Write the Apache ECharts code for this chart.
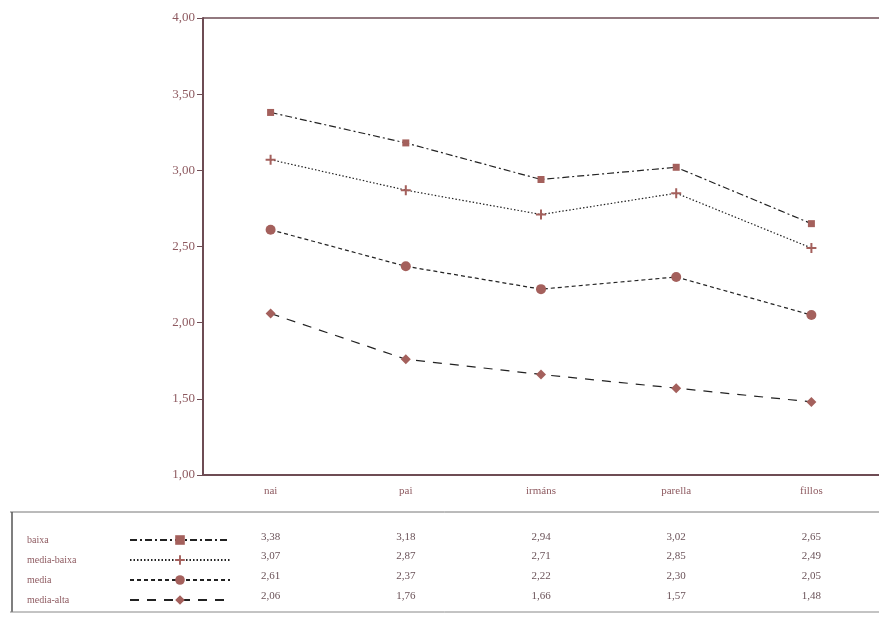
<!DOCTYPE html>
<html>
<head>
<meta charset="utf-8">
<script src="https://cdn.jsdelivr.net/npm/echarts@6/dist/echarts.min.js"></script>
<style>html,body{margin:0;padding:0;background:#fff}#c{width:879px;height:632px}</style>
</head>
<body>
<div id="c"></div>
<script>
var categories = ['nai', 'pai', 'irmáns', 'parella', 'fillos'];
var seriesNames = ['baixa', 'media-baixa', 'media', 'media-alta'];
var baixa = [3.38, 3.18, 2.94, 3.02, 2.65];
var mediaBaixa = [3.07, 2.87, 2.71, 2.85, 2.49];
var media = [2.61, 2.37, 2.22, 2.30, 2.05];
var mediaAlta = [2.06, 1.76, 1.66, 1.57, 1.48];
var yTicks = {min: 1, max: 4, interval: 0.5};

var seriesData = [baixa, mediaBaixa, media, mediaAlta];
var fmt = function (v) { return v.toFixed(2).replace('.', ','); };
var markerColor = '#a4605c';
var textColor = '#8e5a60';
var axisColor = '#6e4c54';
var serif = '"Liberation Serif", "DejaVu Serif", serif';

var styles = [
  {symbol: 'rect', size: 7, dash: [7, 3, 2, 3]},
  {symbol: 'path://M4,0H6V4H10V6H6V10H4V6H0V4H4Z', size: 10, dash: [1.5, 2]},
  {symbol: 'circle', size: 10, dash: [4, 3]},
  {symbol: 'diamond', size: 10, dash: [9, 8]}
];

var chart = echarts.init(document.getElementById('c'));
var series = seriesNames.map(function (n, i) {
  return {
    name: n, type: 'line', data: seriesData[i],
    symbol: styles[i].symbol, symbolSize: styles[i].size,
    itemStyle: {color: markerColor},
    lineStyle: {color: '#222', width: 1.2, type: styles[i].dash},
    emphasis: {disabled: true}, animation: false
  };
});

chart.setOption({
  backgroundColor: '#fff',
  animation: false,
  grid: {left: 203, top: 18, bottom: 157, width: 685, show: false},
  xAxis: {
    type: 'category', data: categories, boundaryGap: true,
    axisLine: {lineStyle: {color: axisColor, width: 2}},
    axisTick: {show: false},
    axisLabel: {color: textColor, fontFamily: serif, fontSize: 11, margin: 11}
  },
  yAxis: {
    type: 'value', min: yTicks.min, max: yTicks.max, interval: yTicks.interval,
    splitLine: {show: false},
    axisLine: {show: true, lineStyle: {color: axisColor, width: 2}},
    axisTick: {show: true, length: 6, lineStyle: {color: axisColor, width: 1}},
    axisLabel: {color: textColor, fontFamily: serif, fontSize: 13, margin: 8, formatter: fmt}
  },
  legend: {
    orient: 'vertical', left: 22, top: 529, align: 'right',
    itemWidth: 100, itemHeight: 12, itemGap: 8,
    selectedMode: false,
    formatter: function (n) { return '{n|' + n + '}'; },
    textStyle: {color: textColor, fontFamily: serif, fontSize: 10, lineHeight: 12,
      rich: {n: {width: 98, align: 'left', color: textColor, fontFamily: serif, fontSize: 10}}},
    data: seriesNames
  },
  series: series
});

var rowY = [537, 556, 576, 596];
var g = [];
seriesData.forEach(function (arr, si) {
  arr.forEach(function (v, ci) {
    var x = chart.convertToPixel({xAxisIndex: 0}, categories[ci]);
    g.push({type: 'text', x: x, y: rowY[si], style: {text: fmt(v), fill: '#6a5258', font: '11px ' + serif, align: 'center', verticalAlign: 'middle'}});
  });
});
g.push({type: 'line', shape: {x1: 203, y1: 18, x2: 879, y2: 18}, style: {stroke: axisColor, lineWidth: 1.5}});
g.push({type: 'line', shape: {x1: 10, y1: 512, x2: 879, y2: 512}, style: {stroke: '#777', lineWidth: 1}});
g.push({type: 'line', shape: {x1: 12, y1: 512, x2: 12, y2: 612}, style: {stroke: '#555', lineWidth: 1.5}});
g.push({type: 'line', shape: {x1: 10, y1: 612, x2: 879, y2: 612}, style: {stroke: '#888', lineWidth: 1}});
chart.setOption({graphic: g});
</script>
</body>
</html>
